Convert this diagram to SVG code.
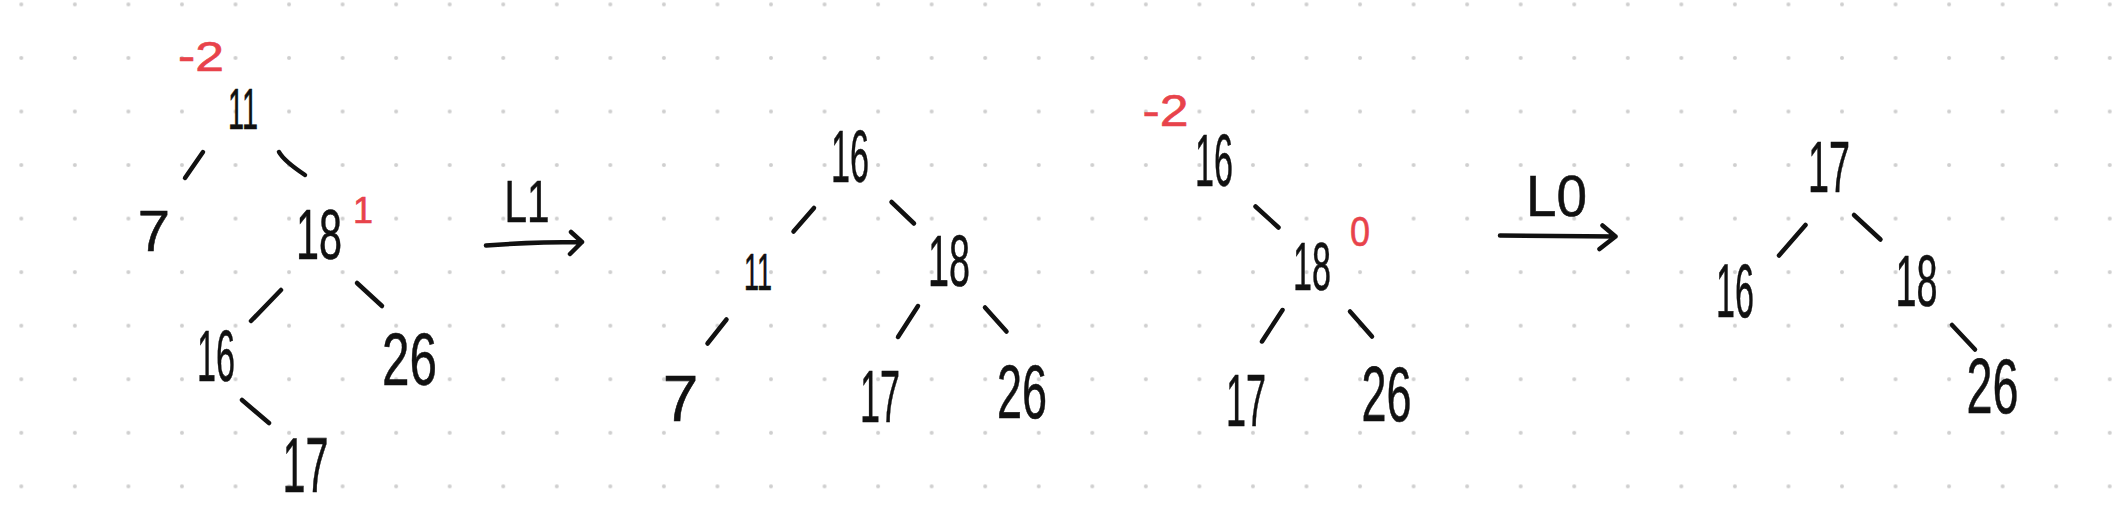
<svg xmlns="http://www.w3.org/2000/svg" width="2125" height="528" viewBox="0 0 2125 528">
<style>
.n{font-family:"Liberation Sans",Arial,sans-serif;fill:#111;text-anchor:middle;stroke:#111;stroke-width:0.6}
.r{font-family:"Liberation Sans",Arial,sans-serif;fill:#e8434b;text-anchor:middle;stroke:#e8434b;stroke-width:0.6}
.e{fill:none;stroke:#111;stroke-width:4.5;stroke-linecap:round;stroke-linejoin:round}
</style>
<defs>
<pattern id="dots" patternUnits="userSpaceOnUse" x="-5.475" y="-22.375" width="53.55" height="53.55">
<circle cx="26.775" cy="26.775" r="2" fill="#cfcfcf"/>
</pattern>
</defs>
<rect width="2125" height="528" fill="#fff"/>
<rect width="2125" height="528" fill="url(#dots)"/>

<g id="connectors">
<path class="e" d="M203,152 L185,178"/>
<path class="e" d="M279,152 Q284,161 305,175"/>
<path class="e" d="M281,290 L251,321"/>
<path class="e" d="M357,283 L382,306"/>
<path class="e" d="M242,400 L269,423"/>
<path class="e" d="M486,245.5 Q530,242 582,242 M571,232 L582,242 L570,254"/>
<text class="n" x="527" y="222" font-size="60" textLength="45" lengthAdjust="spacingAndGlyphs">L1</text>
<path class="e" d="M814,208 L793.5,231.5"/>
<path class="e" d="M891.5,202 L914,223.5"/>
<path class="e" d="M726.5,319.5 L707.5,343.5"/>
<path class="e" d="M918,306 L898,337"/>
<path class="e" d="M985,307.5 L1006.5,331.5"/>
<path class="e" d="M1255.5,206.5 L1278.5,227.5"/>
<path class="e" d="M1282.5,310 L1262,341.5"/>
<path class="e" d="M1350,311.5 L1372,336.5"/>
<path class="e" d="M1500,235.5 L1615.5,236.5 M1602.5,225.5 L1615.5,236.5 L1599.5,249"/>
<text class="n" x="1556.5" y="216" font-size="58" textLength="61" lengthAdjust="spacingAndGlyphs">L0</text>
<path class="e" d="M1805.5,225 L1779,255.5"/>
<path class="e" d="M1854,215 L1880.5,239.5"/>
<path class="e" d="M1952,325 L1975,349.5"/>
</g>

<g id="t1-n11"><text class="n" x="243" y="129" font-size="57" textLength="30" lengthAdjust="spacingAndGlyphs">11</text><text class="r" x="201" y="71" font-size="42" textLength="46" lengthAdjust="spacingAndGlyphs">-2</text></g>
<g id="t1-n7"><text class="n" x="154" y="251" font-size="58">7</text></g>
<g id="t1-n18"><text class="n" x="319" y="259" font-size="70" textLength="46" lengthAdjust="spacingAndGlyphs">18</text><text class="r" x="363" y="223" font-size="36">1</text></g>
<g id="t1-n16"><text class="n" x="216" y="381" font-size="72" textLength="38" lengthAdjust="spacingAndGlyphs">16</text></g>
<g id="t1-n26"><text class="n" x="409.5" y="385" font-size="74" textLength="55" lengthAdjust="spacingAndGlyphs">26</text></g>
<g id="t1-n17"><text class="n" x="305.5" y="492" font-size="78" textLength="46" lengthAdjust="spacingAndGlyphs">17</text></g>

<g id="t2-n16"><text class="n" x="850" y="182" font-size="74" textLength="38" lengthAdjust="spacingAndGlyphs">16</text></g>
<g id="t2-n11"><text class="n" x="758" y="290" font-size="52" textLength="28" lengthAdjust="spacingAndGlyphs">11</text></g>
<g id="t2-n18"><text class="n" x="949" y="286" font-size="72" textLength="42" lengthAdjust="spacingAndGlyphs">18</text></g>
<g id="t2-n7"><text class="n" x="680.5" y="421" font-size="64">7</text></g>
<g id="t2-n17"><text class="n" x="880" y="422" font-size="74" textLength="40" lengthAdjust="spacingAndGlyphs">17</text></g>
<g id="t2-n26"><text class="n" x="1022" y="418" font-size="76" textLength="50" lengthAdjust="spacingAndGlyphs">26</text></g>

<g id="t3-n16"><text class="n" x="1214" y="186" font-size="74" textLength="38" lengthAdjust="spacingAndGlyphs">16</text><text class="r" x="1165.5" y="126" font-size="44" textLength="46" lengthAdjust="spacingAndGlyphs">-2</text></g>
<g id="t3-n18"><text class="n" x="1312" y="290" font-size="68" textLength="38" lengthAdjust="spacingAndGlyphs">18</text><text class="r" x="1360" y="246" font-size="42" textLength="20" lengthAdjust="spacingAndGlyphs">0</text></g>
<g id="t3-n17"><text class="n" x="1246" y="426" font-size="74" textLength="40" lengthAdjust="spacingAndGlyphs">17</text></g>
<g id="t3-n26"><text class="n" x="1386.5" y="421" font-size="78" textLength="50" lengthAdjust="spacingAndGlyphs">26</text></g>

<g id="t4-n17"><text class="n" x="1829" y="192" font-size="72" textLength="42" lengthAdjust="spacingAndGlyphs">17</text></g>
<g id="t4-n16"><text class="n" x="1735" y="317" font-size="76" textLength="38" lengthAdjust="spacingAndGlyphs">16</text></g>
<g id="t4-n18"><text class="n" x="1916.5" y="306" font-size="72" textLength="42" lengthAdjust="spacingAndGlyphs">18</text></g>
<g id="t4-n26"><text class="n" x="1992.5" y="413" font-size="78" textLength="52" lengthAdjust="spacingAndGlyphs">26</text></g>
</svg>
